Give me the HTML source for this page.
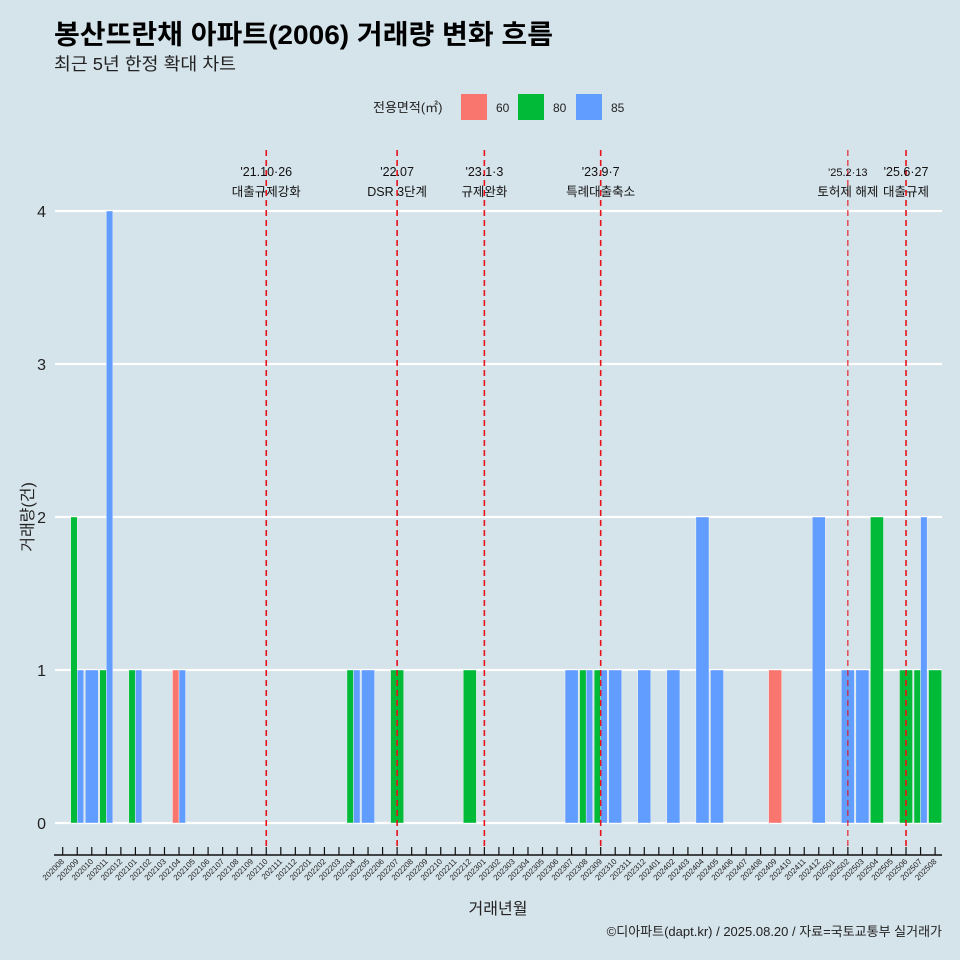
<!DOCTYPE html>
<html><head><meta charset="utf-8"><style>
html,body{margin:0;padding:0;background:#d5e3ea;}
svg{display:block;font-family:"Liberation Sans","Noto Sans CJK KR",sans-serif;}
</style></head><body>
<svg id="c" width="960" height="960" viewBox="0 0 960 960">
<rect width="960" height="960" fill="#d5e3ea"/>
<text x="54" y="44" font-size="27" font-weight="bold" fill="#000" textLength="499" lengthAdjust="spacingAndGlyphs">봉산뜨란채 아파트(2006) 거래량 변화 흐름</text>
<text x="54" y="70" font-size="17.5" fill="#222" textLength="182" lengthAdjust="spacingAndGlyphs">최근 5년 한정 확대 차트</text>
<g>
<text x="373" y="112" font-size="13" fill="#222">전용면적(㎡)</text>
<rect x="461" y="94" width="26" height="26" fill="#f8766d"/>
<text x="496" y="112" font-size="12" fill="#222">60</text>
<rect x="518" y="94" width="26" height="26" fill="#00ba38"/>
<text x="553" y="112" font-size="12" fill="#222">80</text>
<rect x="576" y="94" width="26" height="26" fill="#619cff"/>
<text x="611" y="112" font-size="12" fill="#222">85</text>
</g>
<g id="grid"></g><g id="bars"></g><g id="events"></g><g id="axes"></g>
<text x="498" y="914" font-size="16" text-anchor="middle" fill="#222">거래년월</text>
<text transform="translate(33,517) rotate(-90)" font-size="16" text-anchor="middle" fill="#222">거래량(건)</text>
<text x="942" y="936" font-size="13" text-anchor="end" fill="#222">©디아파트(dapt.kr) / 2025.08.20 / 자료=국토교통부 실거래가</text>
</svg>
<script>
const months = [];
for (let y = 2020, m = 8; !(y === 2025 && m === 9); m++) { if (m > 12) { m = 1; y++; } if (y === 2025 && m === 9) break; months.push(String(y) + String(m).padStart(2, '0')); }
const areas = ['60', '80', '85'];
const colors = {'60': '#f8766d', '80': '#00ba38', '85': '#619cff'};
const records = [
['202009','80',2],['202009','85',1],['202010','85',1],['202011','80',1],['202011','85',4],
['202101','80',1],['202101','85',1],['202104','60',1],['202104','85',1],
['202204','80',1],['202204','85',1],['202205','85',1],['202207','80',1],['202212','80',1],
['202307','85',1],['202308','80',1],['202308','85',1],['202309','80',1],['202309','85',1],
['202310','85',1],['202312','85',1],['202402','85',1],['202404','85',2],['202405','85',1],
['202409','60',1],['202412','85',2],['202502','85',1],['202503','85',1],['202504','80',2],
['202506','80',1],['202507','80',1],['202507','85',2],['202508','80',1]];
const yTicks = [0, 1, 2, 3, 4];
const events = [['202110',"'21.10·26",'대출규제강화'],['202207',"'22.07",'DSR 3단계'],['202301',"'23.1·3",'규제완화'],['202309',"'23.9·7",'특례대출축소'],['202502',"'25.2·13",'토허제 해제'],['202506',"'25.6·27",'대출규제']];

const NS = 'http://www.w3.org/2000/svg';
const x0 = 62.7, step = 14.54, y0 = 823, yUnit = 153;
const xs = m => x0 + step * months.indexOf(m);
const ys = v => y0 - v * yUnit;
function mk(tag, attrs, parent) { const e = document.createElementNS(NS, tag); for (const k in attrs) e.setAttribute(k, attrs[k]); parent.appendChild(e); return e; }
const grid = document.getElementById('grid'), bars = document.getElementById('bars'), ev = document.getElementById('events'), axes = document.getElementById('axes');

yTicks.forEach(t => {
  const l = mk('line', {x1: 55, x2: 942, y1: ys(t), y2: ys(t), stroke: '#fff', 'stroke-width': 2.2}, grid);
  
  
  const tx = mk('text', {x: 46, y: ys(t) + 6, 'font-size': 16, 'text-anchor': 'end', fill: '#222'}, axes);
  tx.textContent = t;
  
  
});

const bw = step * 0.9;
months.forEach(m => {
  const recs = records.filter(r => r[0] === m).sort((a, b) => areas.indexOf(a[1]) - areas.indexOf(b[1]));
  const n = recs.length; if (!n) return;
  const w = bw / n;
  recs.forEach((r, j) => {
    const bx = xs(m) - bw / 2 + j * w;
    const b = mk('rect', {x: bx, y: ys(r[2]), width: w, height: r[2] * yUnit, fill: colors[r[1]], stroke: '#fff', 'stroke-width': 0.4}, bars);
    
    
  });
});

events.forEach((e, k) => {
  const x = xs(e[0]);
  const l = mk('line', {x1: x, x2: x, y1: 150, y2: 846, stroke: '#e8121a', 'stroke-width': k === 4 ? 1.1 : 1.6, 'stroke-dasharray': '6,4'}, ev);
  
  
  const t1 = mk('text', {x: x, y: 176, 'font-size': k === 4 ? 11 : 12.5, 'text-anchor': 'middle', fill: '#111'}, ev);
  t1.textContent = e[1];
  
  
  const t2 = mk('text', {x: x, y: 196, 'font-size': 12.5, 'text-anchor': 'middle', fill: '#111'}, ev);
  t2.textContent = e[2];
  
  
});

const ax = mk('line', {x1: 54, x2: 942, y1: 855, y2: 855, stroke: '#111', 'stroke-width': 1.5}, axes);


months.forEach(m => {
  const x = xs(m);
  const tk = mk('line', {x1: x, x2: x, y1: 847, y2: 855, stroke: '#111', 'stroke-width': 1.2}, axes);
  
  
  const t = mk('text', {x: x + 2, y: 862, 'font-size': 8, 'text-anchor': 'end', fill: '#222', transform: 'rotate(-45 ' + (x + 2) + ' 862)'}, axes);
  t.textContent = m;
  
  
});
</script>
</body></html>
